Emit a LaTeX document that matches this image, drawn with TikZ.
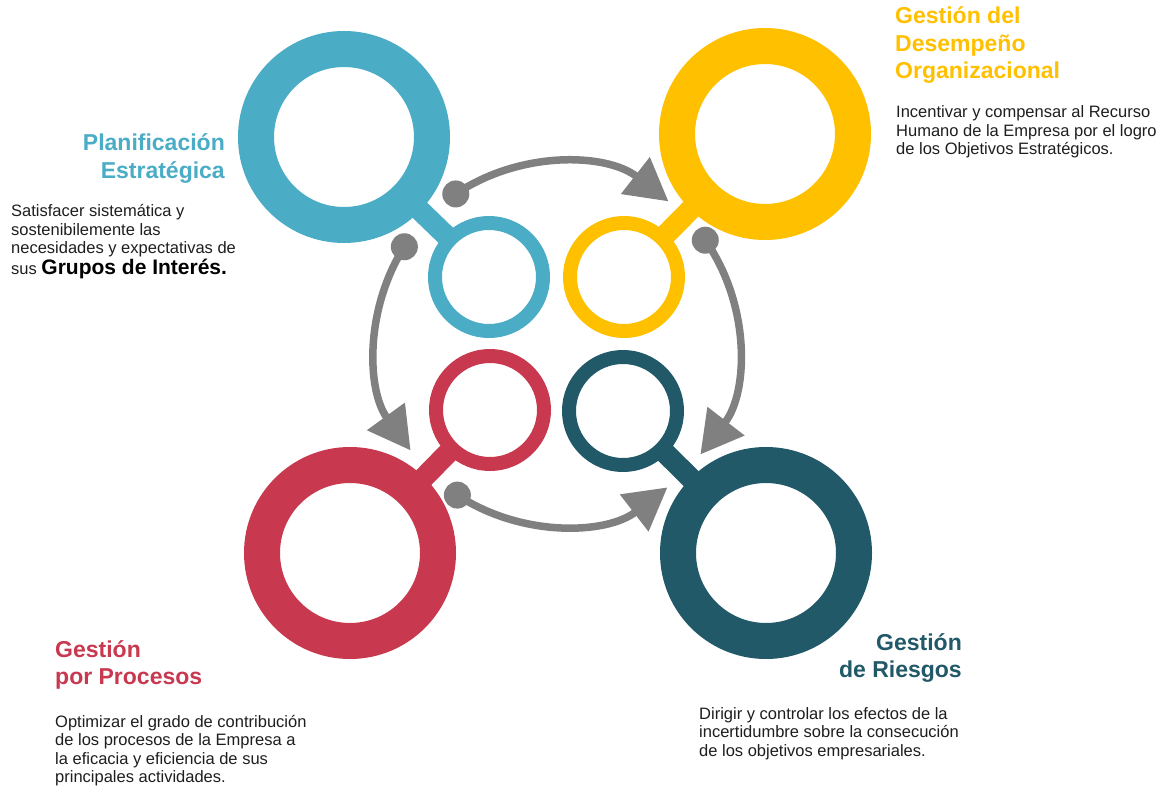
\documentclass[tikz,border=0pt]{standalone}
\usepackage{fontspec}
\setmainfont{Liberation Sans}
\usetikzlibrary{arrows.meta,calc}
\definecolor{cblue}{HTML}{4BACC6}
\definecolor{cyellow}{HTML}{FFC000}
\definecolor{cred}{HTML}{C8384F}
\definecolor{cteal}{HTML}{215968}
\definecolor{cgray}{HTML}{808080}
\definecolor{ctext}{HTML}{1E1E1E}
\begin{document}
\begin{tikzpicture}[x=1pt,y=-1pt,
  bigring/.style={circle,draw,line width=36pt,minimum size=176pt,inner sep=0pt,outer sep=0pt},
  smallring/.style={circle,draw,line width=14pt,minimum size=108pt,inner sep=0pt,outer sep=0pt},
  stem/.style={line width=21pt},
  flow/.style={draw=cgray,line width=7.5pt,-{Triangle[length=42pt,width=45pt]}},
  flowdot/.style={circle,fill=cgray,minimum size=27pt,inner sep=0pt,outer sep=0pt},
  title/.style={font=\fontsize{23}{27.5}\selectfont\bfseries,inner sep=0pt},
  body/.style={font=\fontsize{16.5}{18.5}\selectfont,text=ctext,inner sep=0pt}]
\useasboundingbox (0,0) rectangle (1163,789);
\fill[white] (0,0) rectangle (1163,789);
\coordinate (C) at (557,344);
% rings
\node[bigring,draw=cblue] (b1) at (344,137) {};
\node[smallring,draw=cblue] (s1) at (489,277) {};
\draw[stem,cblue] (b1) -- (s1);
\node[bigring,draw=cyellow] (b2) at (765,134) {};
\node[smallring,draw=cyellow] (s2) at (624,277) {};
\draw[stem,cyellow] (b2) -- (s2);
\node[bigring,draw=cred] (b3) at (350,553) {};
\node[smallring,draw=cred] (s3) at (490,410) {};
\draw[stem,cred] (b3) -- (s3);
\node[bigring,draw=cteal] (b4) at (766,553) {};
\node[smallring,draw=cteal] (s4) at (623,411) {};
\draw[stem,cteal] (b4) -- (s4);
% flow arrows
\node[flowdot] (d1) at ($(C)+(-124:181)$) {};
\draw[flow] (d1.center) arc[start angle=-124,end angle=-52,radius=181];
\node[flowdot] (d2) at ($(C)+(-35:181)$) {};
\draw[flow] (d2.center) arc[start angle=-35,end angle=37.6,radius=181];
\node[flowdot] (d3) at ($(C)+(123.4:181)$) {};
\draw[flow] (d3.center) arc[start angle=123.4,end angle=52.4,radius=181];
\node[flowdot] (d4) at ($(C)+(212.5:181)$) {};
\draw[flow] (d4.center) arc[start angle=212.5,end angle=144,radius=181];
% titles
\node[title,text=cblue,anchor=base east] (t1) at (225,151) {\begin{tabular}[t]{@{}r@{}}Planificación\\Estratégica\end{tabular}};
\node[title,text=cyellow,anchor=base west] (t2) at (895,24) {\begin{tabular}[t]{@{}l@{}}Gestión del\\Desempeño\\Organizacional\end{tabular}};
\node[title,text=cred,anchor=base west] (t3) at (55,657) {\begin{tabular}[t]{@{}l@{}}Gestión\\por Procesos\end{tabular}};
\node[title,text=cteal,anchor=base east] (t4) at (962,650) {\begin{tabular}[t]{@{}r@{}}Gestión\\de Riesgos\end{tabular}};
% bodies
\node[body,anchor=base west] (x1) at (11,217) {\begin{tabular}[t]{@{}l@{}}Satisfacer sistemática y\\sostenibilemente las\\necesidades y expectativas de\\sus {\fontsize{21}{24}\selectfont\bfseries\color{black}Grupos de Interés.}\end{tabular}};
\node[body,anchor=base west] (x2) at (896,118) {\begin{tabular}[t]{@{}l@{}}Incentivar y compensar al Recurso\\Humano de la Empresa por el logro\\de los Objetivos Estratégicos.\end{tabular}};
\node[body,anchor=base west] (x3) at (55,727) {\begin{tabular}[t]{@{}l@{}}Optimizar el grado de contribución\\de los procesos de la Empresa a\\la eficacia y eficiencia de sus\\principales actividades.\end{tabular}};
\node[body,anchor=base west] (x4) at (699,719) {\begin{tabular}[t]{@{}l@{}}Dirigir y controlar los efectos de la\\incertidumbre sobre la consecución\\de los objetivos empresariales.\end{tabular}};
\end{tikzpicture}
\end{document}
